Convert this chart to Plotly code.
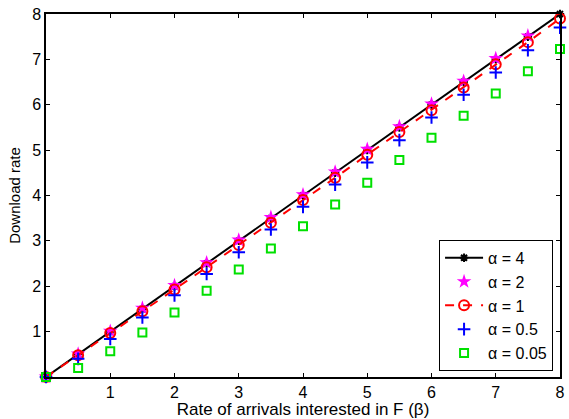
import plotly.graph_objects as go

beta = [0, 0.5, 1, 1.5, 2, 2.5, 3, 3.5, 4, 4.5, 5, 5.5, 6, 6.5, 7, 7.5, 8]
rate_a4 = [0, 0.5, 1, 1.5, 2, 2.5, 3, 3.5, 4, 4.5, 5, 5.5, 6, 6.5, 7, 7.5, 8]
rate_a2 = [0, 0.51, 1.01, 1.52, 2.02, 2.52, 3.02, 3.52, 4.02, 4.52, 5.02, 5.52, 6.02, 6.52, 7.02, 7.52, 8.02]
rate_a1 = [0, 0.48, 0.97, 1.45, 1.93, 2.42, 2.91, 3.4, 3.9, 4.39, 4.9, 5.4, 5.88, 6.38, 6.89, 7.38, 7.9]
rate_a05 = [0, 0.4, 0.84, 1.31, 1.8, 2.27, 2.75, 3.25, 3.75, 4.24, 4.73, 5.22, 5.72, 6.22, 6.71, 7.2, 7.7]
rate_a005 = [0, 0.2, 0.57, 0.98, 1.42, 1.9, 2.37, 2.83, 3.32, 3.8, 4.28, 4.78, 5.27, 5.76, 6.25, 6.74, 7.23]
ticks = [1, 2, 3, 4, 5, 6, 7, 8]

fig = go.Figure()
fig.add_trace(go.Scatter(x=beta, y=rate_a4, name="α = 4", mode="lines+markers",
                         line=dict(color="black", width=2),
                         marker=dict(symbol="asterisk-open", size=7, color="black",
                                     line=dict(color="black", width=2)),
                         cliponaxis=False))
fig.add_trace(go.Scatter(x=beta, y=rate_a2, name="α = 2", mode="markers",
                         marker=dict(symbol="star", size=11, color="magenta",
                                     line=dict(width=0)),
                         cliponaxis=False))
fig.add_trace(go.Scatter(x=beta, y=rate_a1, name="α = 1", mode="lines+markers",
                         line=dict(color="red", width=2, dash="dash"),
                         marker=dict(symbol="circle-open", size=10, color="red",
                                     line=dict(color="red", width=2)),
                         cliponaxis=False))
fig.add_trace(go.Scatter(x=beta, y=rate_a05, name="α = 0.5", mode="markers",
                         marker=dict(symbol="cross-thin-open", size=9, color="blue",
                                     line=dict(color="blue", width=2)),
                         cliponaxis=False))
fig.add_trace(go.Scatter(x=beta, y=rate_a005, name="α = 0.05", mode="markers",
                         marker=dict(symbol="square-open", size=8, color="#00e000",
                                     line=dict(color="#00e000", width=2)),
                         cliponaxis=False))

axis_common = dict(range=[0, 8], tickvals=ticks, ticks="inside", ticklen=4,
                   tickcolor="black", tickwidth=1, showline=True, linecolor="black",
                   linewidth=1.5, mirror="ticks", showgrid=False, zeroline=False,
                   tickfont=dict(size=16, color="black", family="Liberation Sans"))

fig.update_layout(
    width=569, height=419,
    margin=dict(l=46, r=4, t=14, b=42),
    plot_bgcolor="white", paper_bgcolor="white",
    font=dict(family="Liberation Sans", color="black"),
    xaxis=dict(**axis_common, title=dict(text="Rate of arrivals interested in F (β)",
                                         font=dict(size=17), standoff=0)),
    yaxis=dict(**axis_common, title=dict(text="Download rate", font=dict(size=15),
                                         standoff=8)),
    legend=dict(x=0.9865, xanchor="right", y=0.017, yanchor="bottom",
                bordercolor="black", borderwidth=1, bgcolor="white",
                font=dict(size=16), tracegroupgap=0, itemwidth=38),
    showlegend=True,
)

fig.write_html("out.html", config={"displayModeBar": False},
               post_script="document.body.style.margin='0';document.body.style.overflow='hidden';")
